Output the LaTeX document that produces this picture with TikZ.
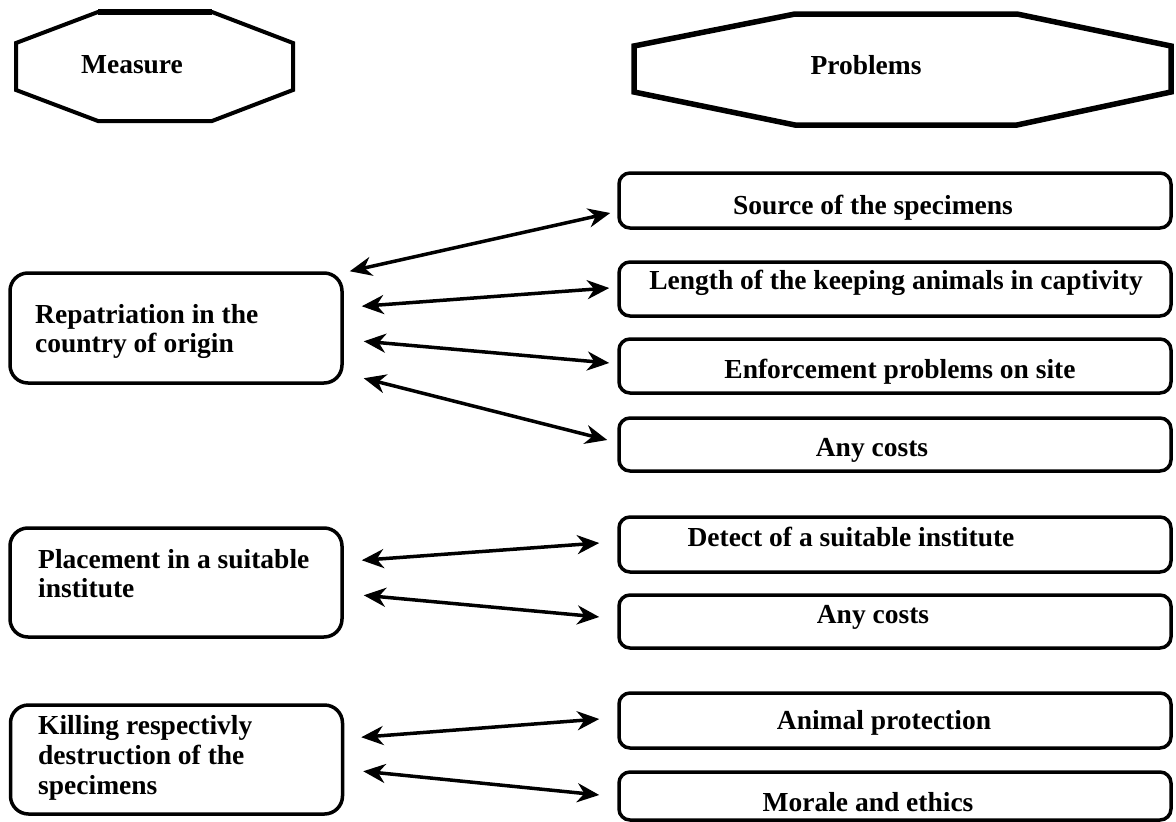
\documentclass[tikz,border=0pt]{standalone}
\usepackage{fontspec}
\setmainfont{Liberation Serif}
\usetikzlibrary{arrows.meta}
\begin{document}
\begin{tikzpicture}[x=1pt,y=-1pt,
  lbox/.style={draw,line width=3.5pt,rounded corners=18pt,minimum width=332pt,minimum height=109pt,inner sep=0pt},
  rbox/.style={draw,line width=3.5pt,rounded corners=11pt,minimum width=552pt,inner sep=0pt},
  txt/.style={font=\bfseries\fontsize{27.5}{29}\selectfont,inner sep=0pt},
  ltxt/.style={txt,anchor=west,align=left},
  oct/.style={line width=4pt,line join=miter},
  biarrow/.style={line width=3.5pt,{Stealth[length=22pt,width=19pt,inset=7pt]}-{Stealth[length=22pt,width=19pt,inset=7pt]}}]
\useasboundingbox (0,0) rectangle (1176,822);
% octagons
\draw[oct] (98,12) -- (212,12) -- (293,43) -- (293,90) -- (212,121) -- (98,121) -- (16,90) -- (16,43) -- cycle;
\draw[line width=5.5pt] (98,12) -- (212,12);
\node[txt] (meas) at (132,65) {Measure};
\draw[oct,line width=5.5pt] (795,14) -- (1017,14) -- (1171,46) -- (1171,92) -- (1017,125) -- (795,125) -- (634,92) -- (634,46) -- cycle;
\node[txt] (prob) at (866,65) {Problems};
% left boxes
\node[lbox,minimum height=110pt] (rep) at (176,328) {};
\node[ltxt] (rept) at (35,331) {Repatriation in the\\country of origin};
\node[lbox] (pla) at (176,582.5) {};
\node[ltxt] (plat) at (38,574) {Placement in a suitable\\institute};
\node[lbox] (kil) at (176.5,759.5) {};
\node[ltxt,font=\bfseries\fontsize{27.5}{30}\selectfont] (kilt) at (38,758) {Killing respectivly\\destruction of the\\specimens};
% right boxes
\node[rbox,minimum height=55pt] (src) at (895,200.5) {};
\node[txt] (srct) at (873,208) {Source of the specimens};
\node[rbox,minimum height=54pt] (len) at (895,289) {};
\node[txt] (lent) at (896,283) {Length of the keeping animals in captivity};
\node[rbox,minimum height=54pt] (enf) at (895,366) {};
\node[txt] (enft) at (900,372) {Enforcement problems on site};
\node[rbox,minimum height=53pt] (cst1) at (895,444.5) {};
\node[txt] (cst1t) at (872,450) {Any costs};
\node[rbox,minimum height=55pt] (det) at (895,544.5) {};
\node[txt] (dett) at (851,537) {Detect of a suitable institute};
\node[rbox,minimum height=53pt] (cst2) at (895,621.5) {};
\node[txt] (cst2t) at (873,617) {Any costs};
\node[rbox,minimum height=55pt] (ani) at (895,720.5) {};
\node[txt] (anit) at (884,723) {Animal protection};
\node[rbox,minimum height=48pt] (mor) at (895,796) {};
\node[txt] (mort) at (868,802) {Morale and ethics};
% arrows
\draw[biarrow] ([shift={(6,0)}]rep.north east) -- ([shift={(-7,12.5)}]src.west);
\draw[biarrow] ([shift={(18,35)}]rep.north east) -- ([shift={(-8,-1)}]len.west);
\draw[biarrow] ([shift={(20,70)}]rep.north east) -- ([shift={(-8,-3)}]enf.west);
\draw[biarrow] ([shift={(20,107)}]rep.north east) -- ([shift={(-10,-4.5)}]cst1.west);
\draw[biarrow] ([shift={(18,34)}]pla.north east) -- ([shift={(-18,-1.5)}]det.west);
\draw[biarrow] ([shift={(20,69)}]pla.north east) -- ([shift={(-18,-4.5)}]cst2.west);
\draw[biarrow] ([shift={(17,34)}]kil.north east) -- ([shift={(-18,-1.5)}]ani.west);
\draw[biarrow] ([shift={(19,68)}]kil.north east) -- ([shift={(-18,-1)}]mor.west);
\end{tikzpicture}
\end{document}
